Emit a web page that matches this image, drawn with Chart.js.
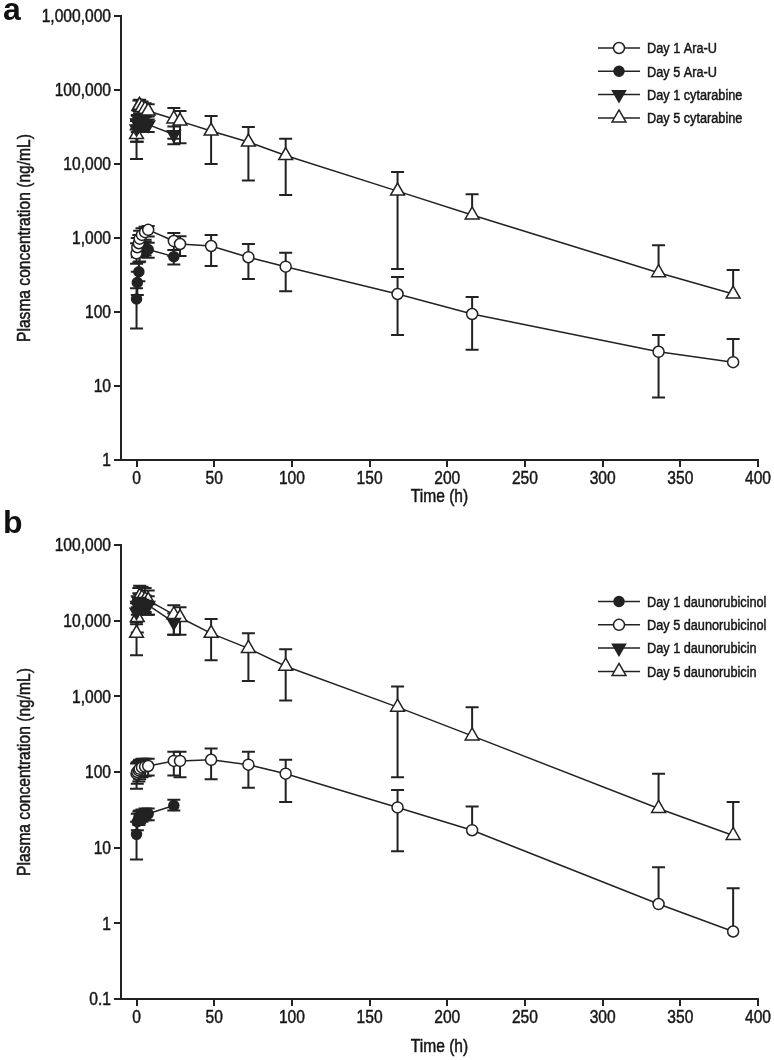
<!DOCTYPE html>
<html>
<head>
<meta charset="utf-8">
<script src="https://cdn.jsdelivr.net/npm/chart.js@4.4.1/dist/chart.umd.min.js"></script>
<style>
  html, body { margin: 0; padding: 0; background: #fff; }
  #wrap { position: relative; width: 774px; height: 1060px; overflow: hidden; }
  canvas { position: absolute; left: 0; }
  .tag { position: absolute; left: 3px; font: bold 32px 'Liberation Sans', Arial, sans-serif; line-height: 32px; color: #111; }
</style>
</head>
<body>
<div id="wrap">
  <canvas id="chartA" width="774" height="508" style="top:0"></canvas>
  <canvas id="chartB" width="774" height="552" style="top:508px"></canvas>
  <div class="tag" style="top:-7px">a</div>
  <div class="tag" style="top:506px">b</div>
</div>
<script>
// narrow helvetica look: liberation sans squeezed sideways
const textFont = "'Liberation Sans', Arial, sans-serif";
const squeeze = 0.82;
const ink = '#222';

// sampling times (h)
const tShort = [0, 0.5, 1.5, 2, 3.5, 5.5, 7.5, 24];
const tLong = [0, 0.5, 1.5, 2, 3.5, 5.5, 7.5, 24, 28, 48, 72, 96, 168, 216, 336, 384];

const xTicks = [0, 50, 100, 150, 200, 250, 300, 350, 400];
const yTicksA = [1, 10, 100, 1000, 10000, 100000, 1000000];
const yTicksB = [0.1, 1, 10, 100, 1000, 10000, 100000];

// panel a (ng/mL)
const day1AraU   = [620, 750, 850, 980, 1100, 1200, 1290, 910, 830, 780, 550, 410, 175, 94, 29, 21];
const day1AraUHi = [850, 1000, 1100, 1250, 1350, 1420, 1450, 1170, 1060, 1100, 830, 630, 297, 160, 49, 43];
const day1AraULo = [450, 550, 650, 750, 850, 950, 1050, 570, 570, 420, 280, 190, 49, 31, 7, null];

const day5AraU   = [150, 250, 350, 650, 720, 740, 700, 560];
const day5AraUHi = [210, 350, 470, 800, 880, 900, 860, 690];
const day5AraULo = [60, 170, 260, 480, 560, 580, 540, 440];

const day1Cyt   = [30000, 36000, 40000, 38000, 36000, 35000, 34000, 25000];
const day1CytHi = [40000, 46000, 52000, 48000, 46000, 45000, 44000, 32000];
const day1CytLo = [20000, 27000, 30000, 29000, 28000, 27000, 27000, 18500];

const day5Cyt   = [25000, 33000, 60000, 62000, 58000, 55000, 52000, 40600, 38000, 27900, 19800, 13000, 4300, 2050, 340, 175];
const day5CytHi = [38000, 45000, 72000, 74000, 70000, 66000, 64000, 57000, 52000, 44600, 31600, 22000, 7800, 3900, 800, 370];
const day5CytLo = [11700, 20000, 45000, 48000, 45000, 43000, 40000, 22000, 19000, 10000, 6000, 3800, 380, null, null, null];

// panel b (ng/mL)
const day1Dnol   = [15, 22, 25, 26, 27, 28, 28, 36];
const day1DnolHi = [22, 28, 30, 31, 32, 33, 33, 43];
const day1DnolLo = [7, 17, 20, 21, 22, 23, 23, 31];

const day5Dnol   = [95, 100, 105, 110, 115, 118, 120, 140, 140, 145, 125, 95, 34, 17, 1.8, 0.78];
const day5DnolHi = [130, 135, 140, 145, 150, 150, 150, 185, 185, 205, 185, 145, 58, 35, 5.5, 2.9];
const day5DnolLo = [60, 70, 75, 80, 85, 88, 90, 90, 85, 80, 62, 40, 9, null, null, null];

const day1Dauno   = [13000, 16000, 18000, 17500, 17000, 16500, 16000, 9500];
const day1DaunoHi = [17000, 21000, 23000, 22500, 22000, 21500, 21000, 12500];
const day1DaunoLo = [9000, 12000, 14000, 13500, 13000, 12500, 12000, 6500];

const day5Dauno   = [6800, 11000, 20000, 21000, 20000, 19000, 18500, 12000, 11000, 6800, 4300, 2500, 720, 300, 33, 14.5];
const day5DaunoHi = [9500, 15000, 27000, 29000, 28000, 27000, 25000, 16000, 15000, 10500, 6800, 4200, 1350, 720, 95, 40];
const day5DaunoLo = [3500, 7000, 14000, 15000, 14000, 13000, 12000, 6500, 6500, 3000, 1600, 880, 85, null, null, null];

// marker looks
const openCircle = { pointStyle: 'circle', r: 5.5, rot: 0, fill: '#fff' };
const fullCircle = { pointStyle: 'circle', r: 5, rot: 0, fill: ink };
const downTri = { pointStyle: 'triangle', r: 7.5, rot: 180, fill: ink };
const openTri = { pointStyle: 'triangle', r: 8, rot: 0, fill: '#fff' };

function series(label, t, y, hi, lo, m) {
  return {
    label: label,
    data: t.map((x, i) => ({ x: x, y: y[i] })),
    errHi: hi,
    errLo: lo,
    marker: m,
    borderColor: ink,
    borderWidth: 1.5,
    tension: 0,
    pointStyle: m.pointStyle,
    pointRotation: m.rot,
    pointRadius: m.r,
    pointBackgroundColor: m.fill,
    pointBorderColor: ink,
    pointBorderWidth: 1.5,
    clip: false
  };
}

function marker(ctx, m, x, y) {
  ctx.beginPath();
  if (m.pointStyle === 'circle') {
    ctx.arc(x, y, m.r, 0, Math.PI * 2);
  } else {
    let a = m.rot * Math.PI / 180;
    for (let k = 0; k < 3; k++) {
      const px = x + Math.sin(a) * m.r, py = y - Math.cos(a) * m.r;
      if (k === 0) ctx.moveTo(px, py); else ctx.lineTo(px, py);
      a += Math.PI * 2 / 3;
    }
    ctx.closePath();
  }
  ctx.fillStyle = m.fill;
  ctx.fill();
  ctx.lineWidth = 1.5;
  ctx.strokeStyle = ink;
  ctx.stroke();
}

function squeezedText(ctx, text, x, y, size, align, rot) {
  ctx.save();
  ctx.translate(x, y);
  if (rot) ctx.rotate(rot);
  ctx.scale(squeeze, 1);
  ctx.font = size + 'px ' + textFont;
  ctx.fillStyle = '#161616';
  ctx.strokeStyle = '#161616';
  ctx.lineWidth = 0.5;
  ctx.textAlign = align;
  ctx.textBaseline = 'middle';
  ctx.fillText(text, 0, 0);
  ctx.strokeText(text, 0, 0);
  ctx.restore();
}

const errorBars = {
  id: 'errorBars',
  beforeDatasetsDraw(chart) {
    const ctx = chart.ctx, xs = chart.scales.x, ys = chart.scales.y;
    ctx.save();
    ctx.strokeStyle = ink;
    ctx.lineWidth = 2;
    chart.data.datasets.forEach(ds => {
      ds.data.forEach((p, i) => {
        const px = xs.getPixelForValue(p.x), py = ys.getPixelForValue(p.y);
        [ds.errHi[i], ds.errLo[i]].forEach(v => {
          if (v == null) return;
          const ey = ys.getPixelForValue(v);
          ctx.beginPath();
          ctx.moveTo(px, py);
          ctx.lineTo(px, ey);
          ctx.moveTo(px - 6.5, ey);
          ctx.lineTo(px + 6.5, ey);
          ctx.stroke();
        });
      });
    });
    ctx.restore();
  }
};

// tick labels + axis titles
const axisText = {
  id: 'axisText',
  afterDraw(chart, args, opts) {
    const ctx = chart.ctx, xs = chart.scales.x, ys = chart.scales.y, area = chart.chartArea;
    xs.ticks.forEach(t => {
      squeezedText(ctx, String(t.value), xs.getPixelForValue(t.value), area.bottom + 19, 19, 'center');
    });
    ys.ticks.forEach(t => {
      squeezedText(ctx, Number(t.value).toLocaleString('en-US'), area.left - 10, ys.getPixelForValue(t.value) + 1, 19, 'right');
    });
    squeezedText(ctx, 'Time (h)', (area.left + area.right) / 2, opts.xTitleY, 19, 'center');
    squeezedText(ctx, 'Plasma concentration (ng/mL)', 25, (area.top + area.bottom) / 2, 19, 'center', -Math.PI / 2);
  }
};

const legendBox = {
  id: 'legendBox',
  afterDraw(chart, args, opts) {
    const ctx = chart.ctx;
    chart.data.datasets.forEach((ds, i) => {
      const y = opts.top + i * opts.step;
      ctx.save();
      ctx.strokeStyle = ink;
      ctx.lineWidth = 1.5;
      ctx.beginPath();
      ctx.moveTo(opts.x, y);
      ctx.lineTo(opts.x + 42, y);
      ctx.stroke();
      marker(ctx, ds.marker, opts.x + 21, y);
      ctx.restore();
      squeezedText(ctx, ds.label, opts.x + 49, y + 1, 15.5, 'left');
    });
  }
};

function makeOptions(yMin, yMax, yTicks, padTop, xAxisH, xTitleY, legendTop) {
  return {
    responsive: false,
    animation: false,
    layout: { padding: { left: 0, right: 16, top: padTop, bottom: 0 } },
    plugins: {
      legend: { display: false },
      tooltip: { enabled: false },
      legendBox: { x: 598, top: legendTop, step: 23.3 },
      axisText: { xTitleY: xTitleY }
    },
    scales: {
      x: {
        type: 'linear',
        min: -10,
        max: 400,
        afterBuildTicks: s => { s.ticks = xTicks.map(v => ({ value: v })); },
        afterFit: s => { s.height = xAxisH; },
        grid: { drawOnChartArea: false, tickLength: 7, lineWidth: 2, color: ink },
        border: { color: ink, width: 2 },
        ticks: { display: false }
      },
      y: {
        type: 'logarithmic',
        min: yMin,
        max: yMax,
        afterBuildTicks: s => { s.ticks = yTicks.map(v => ({ value: v })); },
        afterFit: s => { s.width = 121; },
        grid: { drawOnChartArea: false, tickLength: 7, lineWidth: 2, color: ink },
        border: { color: ink, width: 2 },
        ticks: { display: false }
      }
    }
  };
}

new Chart(document.getElementById('chartA'), {
  type: 'line',
  data: {
    datasets: [
      series('Day 1 Ara-U', tLong, day1AraU, day1AraUHi, day1AraULo, openCircle),
      series('Day 5 Ara-U', tShort, day5AraU, day5AraUHi, day5AraULo, fullCircle),
      series('Day 1 cytarabine', tShort, day1Cyt, day1CytHi, day1CytLo, downTri),
      series('Day 5 cytarabine', tLong, day5Cyt, day5CytHi, day5CytLo, openTri)
    ]
  },
  options: makeOptions(1, 1000000, yTicksA, 16, 48, 497, 48),
  plugins: [errorBars, axisText, legendBox]
});

new Chart(document.getElementById('chartB'), {
  type: 'line',
  data: {
    datasets: [
      series('Day 1 daunorubicinol', tShort, day1Dnol, day1DnolHi, day1DnolLo, fullCircle),
      series('Day 5 daunorubicinol', tLong, day5Dnol, day5DnolHi, day5DnolLo, openCircle),
      series('Day 1 daunorubicin', tShort, day1Dauno, day1DaunoHi, day1DaunoLo, downTri),
      series('Day 5 daunorubicin', tLong, day5Dauno, day5DaunoHi, day5DaunoLo, openTri)
    ]
  },
  options: makeOptions(0.1, 100000, yTicksB, 37, 61, 539, 93.5),
  plugins: [errorBars, axisText, legendBox]
});
</script>
</body>
</html>
